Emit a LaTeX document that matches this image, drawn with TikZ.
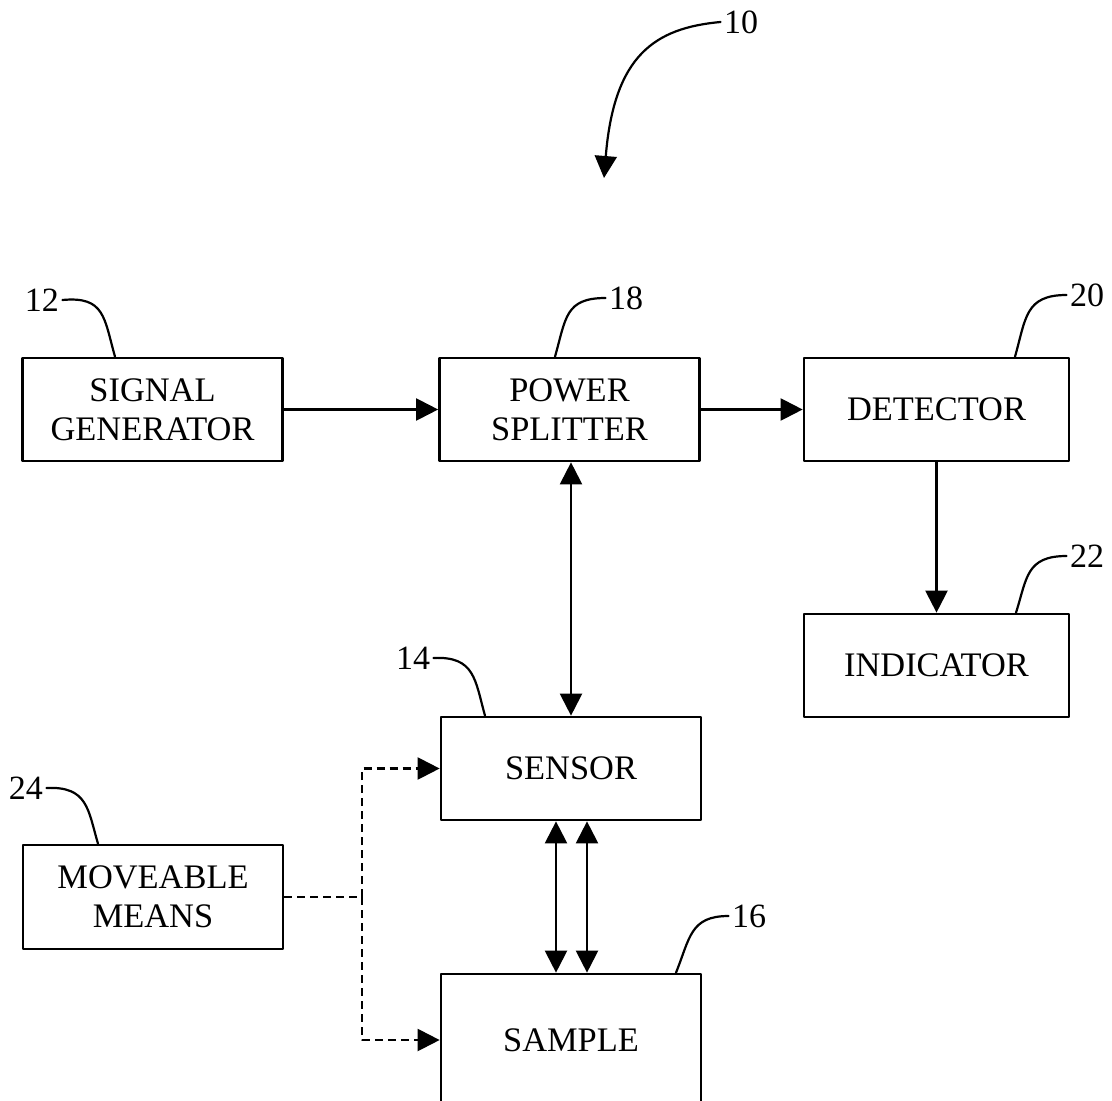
\documentclass[tikz,border=0pt]{standalone}
\usepackage{fontspec}
\setmainfont{Liberation Serif}
\usetikzlibrary{arrows.meta}

\begin{document}
\begin{tikzpicture}[x=0.5pt,y=-0.5pt,line cap=round,line join=round,
  blk/.style={draw,line width=1.35pt,minimum width=130pt,minimum height=51.5pt,
    align=center,inner sep=2pt,font=\fontsize{17.2}{19.7}\selectfont},
  num/.style={inner sep=1.5pt,font=\fontsize{17}{20}\selectfont},
  lead/.style={line width=1.1pt},
  arr/.style={line width=1.1pt,-{Triangle[length=11pt,width=11pt]}},
  arrtwo/.style={line width=1.1pt,{Triangle[length=11pt,width=11pt]}-{Triangle[length=11pt,width=11pt]}},
  dsh/.style={line width=1.1pt,line cap=butt,dash pattern=on 4pt off 2.5pt}]
\useasboundingbox (0,0) rectangle (1112,1101);
\clip (0,0) rectangle (1112,1101);
\node[blk] (gen) at (152.5,409.5) {SIGNAL\\GENERATOR};
\node[blk] (split) at (569.5,409.5) {POWER\\SPLITTER};
\node[blk,minimum width=132.5pt] (det) at (936.5,409.5) {DETECTOR};
\node[blk,minimum width=132.5pt] (ind) at (936.5,665.5) {INDICATOR};
\node[blk] (sens) at (571,768.5) {SENSOR};
\node[blk,minimum height=52pt] (move) at (153,897) {MOVEABLE\\MEANS};
\node[blk,minimum height=66pt] (samp) at (571,1040) {SAMPLE};
\draw[arr] (gen) -- (split);
\draw[arr] (split) -- (det);
\draw[arrtwo] (split.south -| sens.north) -- (sens.north);
\draw[arr] (det) -- (ind);
\draw[arrtwo] ([xshift=-7.5pt]sens.south) -- ([xshift=-7.5pt]samp.north);
\draw[arrtwo] ([xshift=8pt]sens.south) -- ([xshift=8pt]samp.north);
\coordinate (jn) at (362,897);
\draw[dsh] (move) -- (jn);
\draw[dsh] (jn) |- ([xshift=-5.5pt]sens.west);
\draw[dsh] (jn) |- ([xshift=-5.5pt]samp.west);
\draw[arr] ([xshift=-6pt]sens.west) -- (sens.west);
\draw[arr] ([xshift=-6pt]samp.west) -- (samp.west);
\node[num] (n10) at (741,22) {10};
\coordinate (tip10) at (604,178);
\draw[arr] (n10.west) .. controls (655,28) and (614,55) .. (tip10);
\node[num] (n12) at (42,300) {12};
\draw[lead] (n12.east) .. controls (105,296) and (104,318) .. (115,0 |- gen.north);
\node[num] (n18) at (626,298) {18};
\draw[lead] (n18.west) .. controls (565,298) and (566,318) .. (555,0 |- split.north);
\node[num] (n20) at (1087,295) {20};
\draw[lead] (n20.west) .. controls (1025,295) and (1026,318) .. (1015,0 |- det.north);
\node[num] (n22) at (1087,556) {22};
\draw[lead] (n22.west) .. controls (1026,556) and (1027,578) .. (1016,0 |- ind.north);
\node[num] (n14) at (413,658) {14};
\draw[lead] (n14.east) .. controls (475,656) and (475,680) .. (485,0 |- sens.north);
\node[num] (n24) at (26,788) {24};
\draw[lead] (n24.east) .. controls (88,786) and (88,810) .. (98,0 |- move.north);
\node[num] (n16) at (749,916) {16};
\draw[lead] (n16.west) .. controls (690,916) and (690,938) .. (676,0 |- samp.north);
\end{tikzpicture}
\end{document}
